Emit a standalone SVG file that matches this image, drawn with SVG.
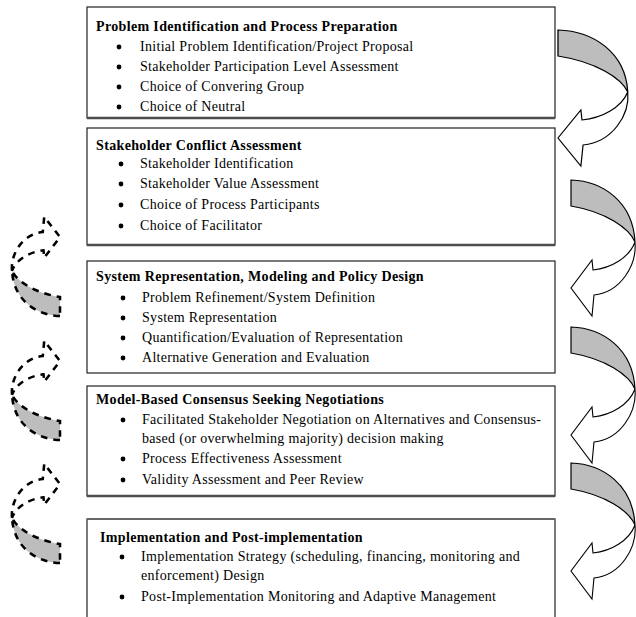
<svg xmlns="http://www.w3.org/2000/svg" xmlns:xlink="http://www.w3.org/1999/xlink" width="636" height="617" viewBox="0 0 636 617">
  <style>
    .box { fill: #fff; stroke: #222; stroke-width: 1.2; }
    .shade { stroke: #4d4d4d; stroke-width: 2.6; }
    .ttl { font-family: "Liberation Serif", "Times New Roman", serif; font-size: 14px; font-weight: bold; letter-spacing: 0.35px; fill: #000; }
    .itm { font-family: "Liberation Serif", "Times New Roman", serif; font-size: 14px; letter-spacing: 0.3px; fill: #000; }
    .dot { fill: #000; }
    .fwd .band { fill: #bdbdbd; stroke: #000; stroke-width: 1.2; }
    .fwd .head { fill: #fff; stroke: #000; stroke-width: 1.1; }
    .back .band { fill: #bdbdbd; stroke: #000; stroke-width: 3.4; stroke-dasharray: 9 8; }
    .back .head { fill: #fff; stroke: #000; stroke-width: 3.4; stroke-dasharray: 9 8; }
  </style>
  <defs>
    <!-- twisted ribbon arrow: grey back face, then white front face ending in a head -->
    <path id="ribbonBand" d="M0,0 C32,1 62,22 64,62 C58,48 35,32 0,26 Z"/>
    <path id="ribbonHead" d="M64,62 C66,85 50,112 23,115 L21,136 L0,108 L21,80 L22,90 C40,88 58,78 64,62 Z"/>
  </defs>

  <rect x="0" y="0" width="636" height="617" fill="#fff"/>

  <!-- stage 1 -->
  <g id="stage1">
    <rect class="box" x="87" y="7" width="468" height="111"/>
    <line class="shade" x1="87" y1="118" x2="555" y2="118"/>
    <text class="ttl" x="96" y="31">Problem Identification and Process Preparation</text>
    <circle class="dot" cx="119" cy="47" r="2.4"/>
    <text class="itm" x="140" y="51">Initial Problem Identification/Project Proposal</text>
    <circle class="dot" cx="119" cy="67" r="2.4"/>
    <text class="itm" x="140" y="71">Stakeholder Participation Level Assessment</text>
    <circle class="dot" cx="119" cy="87" r="2.4"/>
    <text class="itm" x="140" y="91">Choice of Convering Group</text>
    <circle class="dot" cx="119" cy="107" r="2.4"/>
    <text class="itm" x="140" y="111">Choice of Neutral</text>
  </g>

  <!-- stage 2 -->
  <g id="stage2">
    <rect class="box" x="87" y="128" width="468" height="117"/>
    <line class="shade" x1="87" y1="245" x2="555" y2="245"/>
    <text class="ttl" x="96" y="150">Stakeholder Conflict Assessment</text>
    <circle class="dot" cx="121" cy="164" r="2.4"/>
    <text class="itm" x="140" y="168">Stakeholder Identification</text>
    <circle class="dot" cx="121" cy="184" r="2.4"/>
    <text class="itm" x="140" y="188">Stakeholder Value Assessment</text>
    <circle class="dot" cx="121" cy="205" r="2.4"/>
    <text class="itm" x="140" y="209">Choice of Process Participants</text>
    <circle class="dot" cx="121" cy="226" r="2.4"/>
    <text class="itm" x="140" y="230">Choice of Facilitator</text>
  </g>

  <!-- stage 3 -->
  <g id="stage3">
    <rect class="box" x="87" y="261" width="468" height="112"/>
    <text class="ttl" x="96" y="281">System Representation, Modeling and Policy Design</text>
    <circle class="dot" cx="123" cy="298" r="2.4"/>
    <text class="itm" x="142" y="302">Problem Refinement/System Definition</text>
    <circle class="dot" cx="123" cy="318" r="2.4"/>
    <text class="itm" x="142" y="322">System Representation</text>
    <circle class="dot" cx="123" cy="338" r="2.4"/>
    <text class="itm" x="142" y="342">Quantification/Evaluation of Representation</text>
    <circle class="dot" cx="123" cy="358" r="2.4"/>
    <text class="itm" x="142" y="362">Alternative Generation and Evaluation</text>
  </g>

  <!-- stage 4 -->
  <g id="stage4">
    <rect class="box" x="87" y="386" width="468" height="110"/>
    <line class="shade" x1="87" y1="496" x2="555" y2="496"/>
    <text class="ttl" x="96" y="404">Model-Based Consensus Seeking Negotiations</text>
    <circle class="dot" cx="123" cy="420" r="2.4"/>
    <text class="itm" x="142" y="424">Facilitated Stakeholder Negotiation on Alternatives and Consensus-</text>
    <text class="itm" x="142" y="443">based (or overwhelming majority) decision making</text>
    <circle class="dot" cx="123" cy="459" r="2.4"/>
    <text class="itm" x="142" y="463">Process Effectiveness Assessment</text>
    <circle class="dot" cx="123" cy="480" r="2.4"/>
    <text class="itm" x="142" y="484">Validity Assessment and Peer Review</text>
  </g>

  <!-- stage 5 -->
  <g id="stage5">
    <rect class="box" x="87" y="519" width="468" height="104"/>
    <line x1="87" y1="519" x2="555" y2="519" stroke="#666" stroke-width="2"/>
    <text class="ttl" x="100" y="542">Implementation and Post-implementation</text>
    <circle class="dot" cx="122" cy="557" r="2.4"/>
    <text class="itm" x="141" y="561">Implementation Strategy (scheduling, financing, monitoring and</text>
    <text class="itm" x="141" y="580">enforcement) Design</text>
    <circle class="dot" cx="122" cy="597" r="2.4"/>
    <text class="itm" x="141" y="601">Post-Implementation Monitoring and Adaptive Management</text>
  </g>

  <!-- connectors: forward ribbons on the right, dashed feedback ribbons on the left -->
  <g id="connectors">
    <g class="fwd" transform="translate(558,30) scale(1.09,1)">
      <use xlink:href="#ribbonBand" class="band"/>
      <use xlink:href="#ribbonHead" class="head"/>
    </g>
    <g class="fwd" transform="translate(571,180)">
      <use xlink:href="#ribbonBand" class="band"/>
      <use xlink:href="#ribbonHead" class="head"/>
    </g>
    <g class="fwd" transform="translate(571,327)">
      <use xlink:href="#ribbonBand" class="band"/>
      <use xlink:href="#ribbonHead" class="head"/>
    </g>
    <g class="fwd" transform="translate(571,463)">
      <use xlink:href="#ribbonBand" class="band"/>
      <use xlink:href="#ribbonHead" class="head"/>
    </g>

    <g class="back" transform="translate(60,316) rotate(180) scale(0.75,0.73)">
      <use xlink:href="#ribbonBand" class="band"/>
      <use xlink:href="#ribbonHead" class="head"/>
    </g>
    <g class="back" transform="translate(60,440) rotate(180) scale(0.75,0.73)">
      <use xlink:href="#ribbonBand" class="band"/>
      <use xlink:href="#ribbonHead" class="head"/>
    </g>
    <g class="back" transform="translate(60,563) rotate(180) scale(0.75,0.73)">
      <use xlink:href="#ribbonBand" class="band"/>
      <use xlink:href="#ribbonHead" class="head"/>
    </g>
  </g>
</svg>
